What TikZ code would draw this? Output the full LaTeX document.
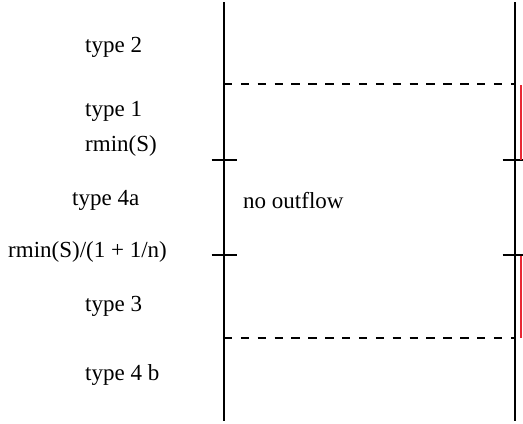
\documentclass[tikz,border=0pt]{standalone}
\usepackage{fontspec}
\setmainfont{Liberation Serif}
\begin{document}
\begin{tikzpicture}[x=1bp,y=-1bp,
  lbl/.style={inner sep=0pt,anchor=base west,font=\fontsize{23bp}{27bp}\selectfont},
  axis/.style={line width=2bp,black},
  level/.style={line width=1.6bp,black,dash pattern=on 8.4bp off 8.47bp},
  tick/.style={line width=1.6bp,black},
  band/.style={line width=1.6bp,draw={rgb,255:red,232;green,40;blue,52}}]
\useasboundingbox (0,0) rectangle (523,423);

% the two vertical axes
\coordinate (Ltop) at (224,2);
\coordinate (Lbot) at (224,421);
\coordinate (Rtop) at (515,2);
\coordinate (Rbot) at (515,421);
\draw[axis] (Ltop) -- (Lbot);
\draw[axis] (Rtop) -- (Rbot);

% dashed levels
\coordinate (Lup) at (224,84);
\coordinate (Rup) at (515,84);
\coordinate (Llo) at (224,338);
\coordinate (Rlo) at (515,338);
\draw[level] (Lup) -- (Rup);
\draw[level] (Llo) -- (Rlo);

% tick marks
\coordinate (La) at (211.5,160);
\coordinate (Lb) at (236.5,160);
\coordinate (Ra) at (502.5,160);
\coordinate (Rb) at (527.5,160);
\coordinate (Lc) at (211.5,255);
\coordinate (Ld) at (236.5,255);
\coordinate (Rc) at (502.5,255);
\coordinate (Rd) at (527.5,255);
\draw[tick] (La) -- (Lb);
\draw[tick] (Ra) -- (Rb);
\draw[tick] (Lc) -- (Ld);
\draw[tick] (Rc) -- (Rd);

% red bands
\coordinate (B1) at (521,85);
\coordinate (B2) at (521,160);
\coordinate (B3) at (521,256);
\coordinate (B4) at (521,338);
\draw[band] (B1) -- (B2);
\draw[band] (B3) -- (B4);

% labels
\node[lbl] (t2) at (85,52.7) {type 2};
\node[lbl] (t1) at (85,116) {type 1};
\node[lbl] (r1) at (85,151.7) {rmin(S)};
\node[lbl] (t4a) at (72,205) {type 4a};
\node[lbl] (r2) at (8,257.3) {rmin(S)/(1 + 1/n)};
\node[lbl] (t3) at (85,311.7) {type 3};
\node[lbl] (t4b) at (85,380.7) {type 4 b};
\node[lbl] (nf) at (243,208.3) {no outflow};
\end{tikzpicture}
\end{document}
